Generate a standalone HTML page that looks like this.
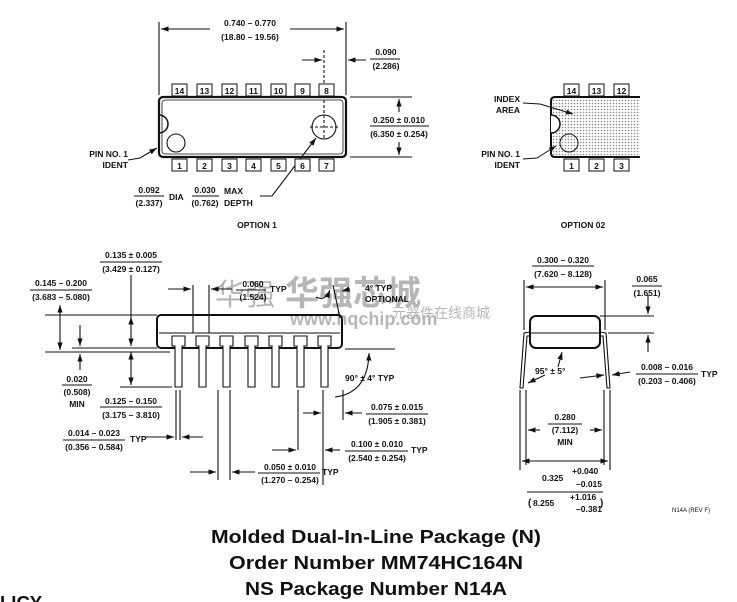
<!DOCTYPE html>
<html><head><meta charset="utf-8"><style>
html,body{margin:0;padding:0;background:#fff;}
svg{display:block;}
text{font-family:"Liberation Sans",sans-serif;fill:#111;}
.s{font-size:8.5px;font-weight:bold;}
.c{text-anchor:middle;}
.t{font-size:18.5px;font-weight:bold;text-anchor:middle;}
</style></head><body>
<svg width="737" height="602" viewBox="0 0 737 602" xmlns="http://www.w3.org/2000/svg">
<defs>
<marker id="a" viewBox="0 0 10 10" refX="10" refY="5" markerWidth="7" markerHeight="7" orient="auto-start-reverse"><path d="M0,1.5 L10,5 L0,8.5 z" fill="#111"/></marker>
<pattern id="dots" width="3" height="3" patternUnits="userSpaceOnUse"><rect width="3" height="3" fill="#fff"/><circle cx="1.5" cy="1.5" r="0.8" fill="#888"/></pattern>
</defs>
<!-- watermark -->
<g opacity="0.3">
<text x="215" y="305" font-size="30" fill="#bbb" style="font-family:'Noto Sans CJK SC',sans-serif">华强</text>
<text x="285" y="305" font-size="34" font-weight="bold" fill="#e77" style="font-family:'Noto Sans CJK SC',sans-serif">华强芯城</text>
<text x="290" y="325" font-size="18" font-weight="bold" fill="#aaa">www.hqchip.com</text>
<text x="392" y="318" font-size="14" fill="#aaa" style="font-family:'Noto Sans CJK SC',sans-serif">元器件在线商城</text>
</g>
<g stroke="#111" fill="none" stroke-width="1.1">
<!-- OPTION 1 top view -->
<line x1="159" y1="22" x2="159" y2="95"/><line x1="346" y1="22" x2="346" y2="95"/>
<line x1="210" y1="29" x2="161" y2="29" marker-end="url(#a)"/><line x1="290" y1="29" x2="344" y2="29" marker-end="url(#a)"/>
<line x1="302" y1="60" x2="322" y2="60" marker-end="url(#a)"/><line x1="366" y1="60" x2="348" y2="60" marker-end="url(#a)"/>
<line x1="324" y1="50" x2="324" y2="140" stroke-dasharray="3,2"/>
<rect x="159" y="97" width="187" height="60" rx="4" stroke-width="2.2"/>
<rect x="162" y="100" width="181" height="54" rx="3" stroke-width="0.8"/>
<path d="M159,115 A9,9 0 0 1 159,133" stroke-width="1.5"/>
<circle cx="176" cy="143" r="9"/>
<circle cx="324" cy="127" r="12"/>
<line x1="310" y1="127" x2="338" y2="127" stroke-dasharray="3,2"/>
<line x1="350" y1="97" x2="412" y2="97"/><line x1="350" y1="157" x2="412" y2="157"/>
<line x1="399" y1="112" x2="399" y2="99" marker-end="url(#a)"/><line x1="399" y1="142" x2="399" y2="155" marker-end="url(#a)"/>
<line x1="370" y1="126" x2="429" y2="126"/>
<path d="M128,160 L140,158 L157,148" marker-end="url(#a)"/>
<path d="M260,196 L272,196 L316,138" marker-end="url(#a)"/>
<line x1="134" y1="196" x2="164" y2="196"/><line x1="192" y1="196" x2="219" y2="196"/>
</g>
<g stroke="#111" fill="#fff" stroke-width="1">
<rect x="172" y="84" width="15" height="12"/><rect x="197" y="84" width="15" height="12"/><rect x="222" y="84" width="15" height="12"/><rect x="246" y="84" width="15" height="12"/><rect x="271" y="84" width="15" height="12"/><rect x="295" y="84" width="15" height="12"/><rect x="319" y="84" width="15" height="12"/>
<rect x="172" y="159" width="15" height="12"/><rect x="197" y="159" width="15" height="12"/><rect x="222" y="159" width="15" height="12"/><rect x="246" y="159" width="15" height="12"/><rect x="271" y="159" width="15" height="12"/><rect x="295" y="159" width="15" height="12"/><rect x="319" y="159" width="15" height="12"/>
</g>
<g class="s c">
<text x="179.5" y="94">14</text><text x="204.5" y="94">13</text><text x="229.5" y="94">12</text><text x="253.5" y="94">11</text><text x="278.5" y="94">10</text><text x="302.5" y="94">9</text><text x="326.5" y="94">8</text>
<text x="179.5" y="169">1</text><text x="204.5" y="169">2</text><text x="229.5" y="169">3</text><text x="253.5" y="169">4</text><text x="278.5" y="169">5</text><text x="302.5" y="169">6</text><text x="326.5" y="169">7</text>
</g>
<g class="s">
<text x="250" y="26" class="c">0.740 – 0.770</text><text x="250" y="40" class="c">(18.80 – 19.56)</text>
<text x="386" y="55" class="c">0.090</text><text x="386" y="69" class="c">(2.286)</text>
<line x1="370" y1="59" x2="400" y2="59" stroke="#111"/>
<text x="399" y="123" class="c">0.250 ± 0.010</text><text x="399" y="137" class="c">(6.350 ± 0.254)</text>
<text x="128" y="157" text-anchor="end">PIN NO. 1</text><text x="128" y="168" text-anchor="end">IDENT</text>
<text x="149" y="193" class="c">0.092</text><text x="149" y="206" class="c">(2.337)</text><text x="169" y="200">DIA</text>
<text x="205" y="193" class="c">0.030</text><text x="205" y="206" class="c">(0.762)</text><text x="224" y="194">MAX</text><text x="224" y="206">DEPTH</text>
<text x="257" y="228" class="c">OPTION 1</text>
</g>
<!-- OPTION 02 -->
<g stroke="#111" stroke-width="1">
<path d="M640,97 L555,97 Q551,97 551,101 L551,153 Q551,157 555,157 L640,157" fill="url(#dots)" stroke-width="2"/>
<path d="M551,115 A9,9 0 0 1 551,133" fill="#fff" stroke-width="1.5"/>
<circle cx="569" cy="143" r="9" fill="url(#dots)"/>
<rect x="564" y="84" width="15" height="12" fill="#fff"/><rect x="589" y="84" width="15" height="12" fill="#fff"/><rect x="614" y="84" width="15" height="12" fill="#fff"/>
<rect x="564" y="159" width="15" height="12" fill="#fff"/><rect x="589" y="159" width="15" height="12" fill="#fff"/><rect x="614" y="159" width="15" height="12" fill="#fff"/>
<path d="M523,103 L540,104 L573,114" fill="none" marker-end="url(#a)"/>
<path d="M523,159 L537,158 L556,146" fill="none" marker-end="url(#a)"/>
</g>
<g class="s">
<text x="571.5" y="94" class="c">14</text><text x="596.5" y="94" class="c">13</text><text x="621.5" y="94" class="c">12</text>
<text x="571.5" y="169" class="c">1</text><text x="596.5" y="169" class="c">2</text><text x="621.5" y="169" class="c">3</text>
<text x="520" y="102" text-anchor="end">INDEX</text><text x="520" y="113" text-anchor="end">AREA</text>
<text x="520" y="157" text-anchor="end">PIN NO. 1</text><text x="520" y="168" text-anchor="end">IDENT</text>
<text x="583" y="228" class="c">OPTION 02</text>
</g>
<!-- side view -->
<g stroke="#111" fill="none" stroke-width="1.1">
<rect x="157" y="315" width="185" height="33" rx="4" stroke-width="2"/>
<line x1="159" y1="333" x2="340" y2="333"/>
<g fill="#fff">
<path d="M172,336 h13 v10 h-3 v41 h-7 v-41 h-3 z"/>
<path d="M196,336 h13 v10 h-3 v41 h-7 v-41 h-3 z"/>
<path d="M220,336 h13 v10 h-3 v41 h-7 v-41 h-3 z"/>
<path d="M245,336 h13 v10 h-3 v41 h-7 v-41 h-3 z"/>
<path d="M269,336 h13 v10 h-3 v41 h-7 v-41 h-3 z"/>
<path d="M294,336 h13 v10 h-3 v41 h-7 v-41 h-3 z"/>
<path d="M318,336 h13 v10 h-3 v41 h-7 v-41 h-3 z"/>
</g>
<line x1="45" y1="315" x2="157" y2="315"/><line x1="45" y1="352" x2="170" y2="352"/>
<line x1="72" y1="348" x2="157" y2="348"/><line x1="120" y1="387" x2="172" y2="387"/>
<line x1="60" y1="305" x2="60" y2="350" marker-end="url(#a)" marker-start="url(#a)"/>
<line x1="80" y1="325" x2="80" y2="346" marker-end="url(#a)"/><line x1="80" y1="370" x2="80" y2="354" marker-end="url(#a)"/>
<line x1="131" y1="275" x2="131" y2="346" marker-end="url(#a)"/>
<line x1="131" y1="320" x2="131" y2="317" marker-end="url(#a)"/>
<line x1="131" y1="352" x2="131" y2="385" marker-end="url(#a)" marker-start="url(#a)"/>
<line x1="193" y1="285" x2="193" y2="333"/><line x1="209" y1="285" x2="209" y2="333"/>
<line x1="168" y1="289" x2="191" y2="289" marker-end="url(#a)"/><line x1="232" y1="289" x2="211" y2="289" marker-end="url(#a)"/>
<path d="M316,297 Q325,302 330,290" marker-end="url(#a)"/>
<line x1="333" y1="285" x2="340" y2="318"/>
<line x1="350" y1="289" x2="342" y2="291" marker-end="url(#a)"/>
<line x1="345" y1="349" x2="395" y2="349"/>
<path d="M335,397 Q368,393 369,353" marker-end="url(#a)"/>
<line x1="323" y1="390" x2="323" y2="485"/><line x1="343" y1="390" x2="343" y2="420"/>
<line x1="303" y1="413" x2="321" y2="413" marker-end="url(#a)"/><line x1="362" y1="413" x2="345" y2="413" marker-end="url(#a)"/>
<line x1="298" y1="390" x2="298" y2="450"/>
<line x1="272" y1="450" x2="296" y2="450" marker-end="url(#a)"/><line x1="340" y1="450" x2="325" y2="450" marker-end="url(#a)"/>
<line x1="176" y1="390" x2="176" y2="440"/><line x1="180" y1="390" x2="180" y2="440"/>
<line x1="145" y1="437" x2="174" y2="437" marker-end="url(#a)"/><line x1="203" y1="437" x2="182" y2="437" marker-end="url(#a)"/>
<line x1="218" y1="390" x2="218" y2="480"/><line x1="230" y1="390" x2="230" y2="480"/>
<line x1="190" y1="472" x2="216" y2="472" marker-end="url(#a)"/><line x1="255" y1="472" x2="232" y2="472" marker-end="url(#a)"/>
</g>
<g class="s">
<text x="131" y="258" class="c">0.135 ± 0.005</text><text x="131" y="272" class="c">(3.429 ± 0.127)</text>
<line x1="100" y1="262" x2="162" y2="262" stroke="#111"/>
<text x="61" y="286" class="c">0.145 – 0.200</text><text x="61" y="300" class="c">(3.683 – 5.080)</text>
<line x1="30" y1="290" x2="92" y2="290" stroke="#111"/>
<text x="253" y="287" class="c">0.060</text><text x="253" y="300" class="c">(1.524)</text><text x="270" y="292">TYP</text>
<line x1="236" y1="290" x2="266" y2="290" stroke="#111"/>
<text x="365" y="291">4° TYP</text><text x="365" y="302">OPTIONAL</text>
<text x="77" y="382" class="c">0.020</text><text x="77" y="395" class="c">(0.508)</text><text x="77" y="407" class="c">MIN</text>
<line x1="62" y1="385" x2="92" y2="385" stroke="#111"/>
<text x="131" y="404" class="c">0.125 – 0.150</text><text x="131" y="418" class="c">(3.175 – 3.810)</text>
<line x1="100" y1="407" x2="162" y2="407" stroke="#111"/>
<text x="345" y="381">90° ± 4° TYP</text>
<text x="397" y="410" class="c">0.075 ± 0.015</text><text x="397" y="424" class="c">(1.905 ± 0.381)</text>
<line x1="366" y1="414" x2="428" y2="414" stroke="#111"/>
<text x="94" y="436" class="c">0.014 – 0.023</text><text x="94" y="450" class="c">(0.356 – 0.584)</text><text x="130" y="442">TYP</text>
<line x1="63" y1="440" x2="125" y2="440" stroke="#111"/>
<text x="377" y="447" class="c">0.100 ± 0.010</text><text x="377" y="461" class="c">(2.540 ± 0.254)</text><text x="411" y="453">TYP</text>
<line x1="345" y1="451" x2="408" y2="451" stroke="#111"/>
<text x="290" y="470" class="c">0.050 ± 0.010</text><text x="290" y="483" class="c">(1.270 – 0.254)</text><text x="322" y="475">TYP</text>
<line x1="258" y1="473" x2="320" y2="473" stroke="#111"/>
</g>
<!-- end view -->
<g stroke="#111" fill="none" stroke-width="1.1">
<line x1="524" y1="280" x2="524" y2="330"/><line x1="605" y1="280" x2="605" y2="330"/>
<line x1="526" y1="287" x2="603" y2="287" marker-end="url(#a)" marker-start="url(#a)"/>
<rect x="530" y="316" width="70" height="32" rx="6" stroke-width="2"/>
<path d="M530,332 L524,333 L520,388 L523,388 L527,336 L530,336"/>
<path d="M600,332 L606,333 L610,388 L607,388 L603,336 L600,336"/>
<line x1="530" y1="333" x2="600" y2="333"/>
<line x1="600" y1="316" x2="654" y2="316"/><line x1="608" y1="333" x2="654" y2="333"/>
<line x1="648" y1="295" x2="648" y2="314" marker-end="url(#a)"/><line x1="648" y1="352" x2="648" y2="335" marker-end="url(#a)"/>
<path d="M558,367 L562,352" marker-end="url(#a)"/><path d="M545,375 L528,383" marker-end="url(#a)"/>
<line x1="580" y1="378" x2="604" y2="375" marker-end="url(#a)"/><line x1="630" y1="372" x2="612" y2="375" marker-end="url(#a)"/>
<line x1="526" y1="390" x2="526" y2="465"/><line x1="604" y1="390" x2="604" y2="465"/>
<line x1="540" y1="430" x2="528" y2="430" marker-end="url(#a)"/><line x1="590" y1="430" x2="602" y2="430" marker-end="url(#a)"/>
<line x1="520" y1="390" x2="520" y2="470"/><line x1="610" y1="390" x2="610" y2="470"/>
<line x1="522" y1="461" x2="608" y2="461" marker-end="url(#a)" marker-start="url(#a)"/>
</g>
<g class="s">
<text x="563" y="263" class="c">0.300 – 0.320</text><text x="563" y="277" class="c">(7.620 – 8.128)</text>
<line x1="532" y1="266" x2="594" y2="266" stroke="#111"/>
<text x="647" y="282" class="c">0.065</text><text x="647" y="296" class="c">(1.651)</text>
<line x1="632" y1="286" x2="662" y2="286" stroke="#111"/>
<text x="535" y="374">95° ± 5°</text>
<text x="667" y="370" class="c">0.008 – 0.016</text><text x="667" y="384" class="c">(0.203 – 0.406)</text><text x="701" y="377">TYP</text>
<line x1="636" y1="374" x2="698" y2="374" stroke="#111"/>
<text x="565" y="420" class="c">0.280</text><text x="565" y="433" class="c">(7.112)</text><text x="565" y="445" class="c">MIN</text>
<line x1="548" y1="424" x2="582" y2="424" stroke="#111"/>
<text x="542" y="481">0.325</text><text x="572" y="474">+0.040</text><text x="576" y="487">–0.015</text>
<line x1="527" y1="492" x2="603" y2="492" stroke="#111"/>
<text x="528" y="506" font-size="10">(</text><text x="533" y="506">8.255</text><text x="570" y="500">+1.016</text><text x="576" y="512">–0.381</text><text x="600" y="506" font-size="10">)</text>
<text x="672" y="512" font-size="6" font-weight="normal">N14A (REV F)</text>
</g>
<text x="376" y="543" class="t" textLength="330" lengthAdjust="spacingAndGlyphs">Molded Dual-In-Line Package (N)</text>
<text x="376" y="569" class="t" textLength="294" lengthAdjust="spacingAndGlyphs">Order Number MM74HC164N</text>
<text x="376" y="595" class="t" textLength="262" lengthAdjust="spacingAndGlyphs">NS Package Number N14A</text>
<text x="0" y="609" font-size="18.5" font-weight="bold">LICY</text>
</svg>
</body></html>
